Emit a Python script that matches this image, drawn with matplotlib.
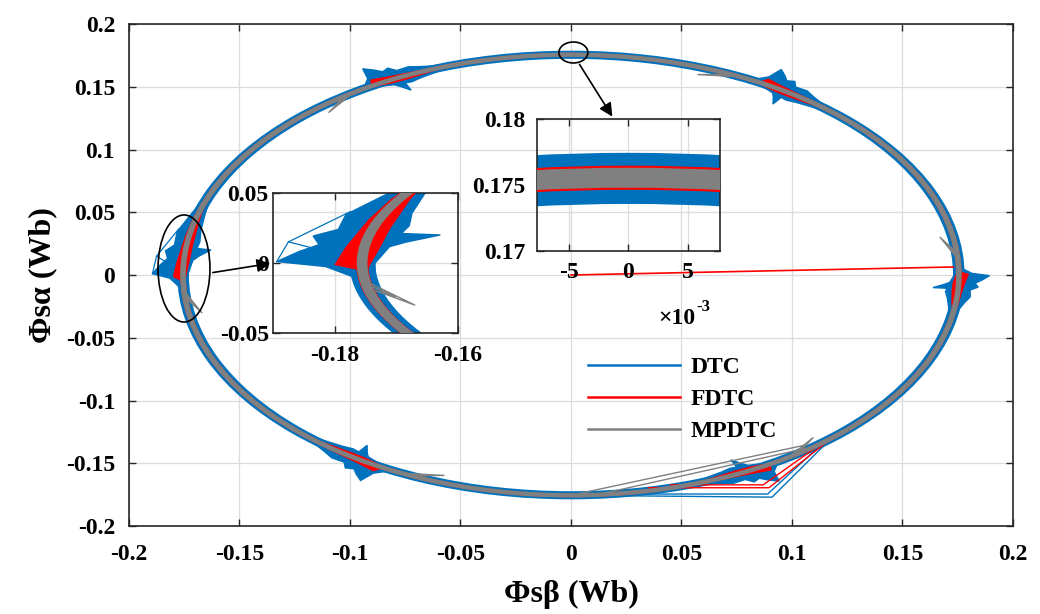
import numpy as np
import matplotlib
matplotlib.use("Agg")
import matplotlib.pyplot as plt
from matplotlib.patches import Annulus, Polygon, Ellipse
from matplotlib.lines import Line2D

plt.rcParams['font.family'] = ['Liberation Serif', 'DejaVu Serif']
plt.rcParams['font.weight'] = 'bold'
plt.rcParams['axes.labelweight'] = 'bold'

# ---------------- data ----------------
series_names = ['DTC', 'FDTC', 'MPDTC']
series_colors = ['#0072BD', '#FF0000', '#808080']
band_inner = [0.1737, 0.1747, 0.1749]     # inner flux radius of each steady band (Wb)
band_outer = [0.1773, 0.1764, 0.1762]     # outer flux radius of each steady band (Wb)

sector_angles = [0, 60, 120, 180, 240, 300]          # sector boundaries (deg)
sector_span = [0.5, 0.55, 0.55, 1.0, 0.6, 0.55]      # angular size of ripple cluster

# DTC ripple cluster at a sector boundary (angle offset deg, radius Wb)
dtc_blob_dtheta = [3.2, 0.8, -0.3, -2.5, -4.1, -6.0, -7.6, -11.0, -14.0, -17.0, -20.0,
                   -20.0, -17.0, -12.0, -9.0, -7.1, -7.0, -5.1, -3.9, 0.1, 3.2]
dtc_blob_r = [0.1773, 0.1815, 0.1894, 0.1860, 0.1830, 0.1845, 0.1810, 0.1815, 0.1795,
              0.1780, 0.1773,
              0.1737, 0.1728, 0.1712, 0.1700, 0.1705, 0.1641, 0.1690, 0.1715, 0.1735, 0.1737]
# FDTC ripple cluster
fdtc_blob_dtheta = [1.5, 0.4, -3.7, -10.0, -15.0, -18.0,
                    -18.0, -15.0, -8.0, -3.9, 0.9, 1.5]
fdtc_blob_r = [0.1764, 0.1800, 0.1785, 0.1772, 0.1768, 0.1764,
               0.1747, 0.1738, 0.1728, 0.1730, 0.1745, 0.1747]
# MPDTC small hook after a sector boundary
mpdtc_hook_dtheta = [4.7, 10.2, 6.5, 8.0, 5.5]
mpdtc_hook_r = [0.1749, 0.1697, 0.1745, 0.1718, 0.1748]

# DTC outline excursions at the 180 deg boundary (abs angle deg, radius)
dtc_left_lineA_theta = [179.7, 175.4, 168.3, 171.0]
dtc_left_lineA_r = [0.1894, 0.1881, 0.1812, 0.1790]
dtc_left_lineB_theta = [175.4, 176.8, 172.5]
dtc_left_lineB_r = [0.1881, 0.1835, 0.1800]

# start-up transients (x = flux beta, y = flux alpha)
dtc_start1_x = [0.0, 0.091, 0.119]
dtc_start1_y = [-0.1755, -0.1770, -0.128]
dtc_start2_x = [0.0, 0.089, 0.117]
dtc_start2_y = [-0.1745, -0.1745, -0.129]
fdtc_start1_x = [0.035, 0.0896, 0.118]
fdtc_start1_y = [-0.1695, -0.1695, -0.130]
fdtc_start2_x = [0.045, 0.087, 0.116]
fdtc_start2_y = [-0.1672, -0.1672, -0.131]
mpdtc_start1_x = [0.0, 0.106]
mpdtc_start1_y = [-0.1755, -0.1355]
mpdtc_start2_x = [0.012, 0.108]
mpdtc_start2_y = [-0.1750, -0.1375]
fdtc_origin_x = [0.0, 0.173]
fdtc_origin_y = [0.0, 0.0064]

main_ticks = [-0.2, -0.15, -0.1, -0.05, 0, 0.05, 0.1, 0.15, 0.2]
main_ticklabels = ['-0.2', '-0.15', '-0.1', '-0.05', '0', '0.05', '0.1', '0.15', '0.2']
in1_xticks = [-0.18, -0.16]
in1_xticklabels = ['-0.18', '-0.16']
in1_yticks = [-0.05, 0, 0.05]
in1_yticklabels = ['-0.05', '0', '0.05']
in2_xticks = [-0.005, 0, 0.005]
in2_xticklabels = ['-5', '0', '5']
in2_yticks = [0.17, 0.175, 0.18]
in2_yticklabels = ['0.17', '0.175', '0.18']


def to_xy(theta_deg, r):
    t = np.deg2rad(np.asarray(theta_deg, float))
    r = np.asarray(r, float)
    return np.column_stack([r * np.cos(t), r * np.sin(t)])


EDGES = [2.6, 1.2, 2.0]


def draw_traj(ax):
    c_dtc, c_fdtc, c_mp = series_colors
    # DTC
    ax.add_patch(Annulus((0, 0), band_outer[0], band_outer[0] - band_inner[0],
                         facecolor=c_dtc, edgecolor=c_dtc, lw=EDGES[0], zorder=2))
    for v, s in zip(sector_angles, sector_span):
        pts = to_xy(v + s * np.asarray(dtc_blob_dtheta), dtc_blob_r)
        ax.add_patch(Polygon(pts, closed=True, facecolor=c_dtc, edgecolor=c_dtc,
                             lw=1.0, zorder=2.1))
    ax.plot(*to_xy(dtc_left_lineA_theta, dtc_left_lineA_r).T, color=c_dtc, lw=0.9, zorder=2.1)
    ax.plot(*to_xy(dtc_left_lineB_theta, dtc_left_lineB_r).T, color=c_dtc, lw=0.9, zorder=2.1)
    ax.plot(dtc_start1_x, dtc_start1_y, color=c_dtc, lw=1.0, zorder=2.2)
    ax.plot(dtc_start2_x, dtc_start2_y, color=c_dtc, lw=1.0, zorder=2.2)
    # FDTC
    ax.add_patch(Annulus((0, 0), band_outer[1], band_outer[1] - band_inner[1],
                         facecolor=c_fdtc, edgecolor=c_fdtc, lw=EDGES[1], zorder=3))
    for v, s in zip(sector_angles, sector_span):
        pts = to_xy(v + s * np.asarray(fdtc_blob_dtheta), fdtc_blob_r)
        ax.add_patch(Polygon(pts, closed=True, facecolor=c_fdtc, edgecolor=c_fdtc,
                             lw=0.5, zorder=3.1))
    ax.plot(fdtc_start1_x, fdtc_start1_y, color=c_fdtc, lw=1.0, zorder=3.2)
    ax.plot(fdtc_start2_x, fdtc_start2_y, color=c_fdtc, lw=1.0, zorder=3.2)
    # MPDTC
    ax.add_patch(Annulus((0, 0), band_outer[2], band_outer[2] - band_inner[2],
                         facecolor=c_mp, edgecolor=c_mp, lw=EDGES[2], zorder=4))
    for v, s in zip(sector_angles, sector_span):
        pts = to_xy(v + np.asarray(mpdtc_hook_dtheta), mpdtc_hook_r)
        ax.plot(pts[:, 0], pts[:, 1], color=c_mp, lw=1.0, zorder=4.1)
    ax.plot(mpdtc_start1_x, mpdtc_start1_y, color=c_mp, lw=1.0, zorder=4.2)
    ax.plot(mpdtc_start2_x, mpdtc_start2_y, color=c_mp, lw=1.0, zorder=4.2)
    ax.plot(fdtc_origin_x, fdtc_origin_y, color=c_fdtc, lw=1.2, zorder=4.5)


def style_axes(ax, fs):
    ax.grid(True, color='#dcdcdc', lw=0.9, zorder=0)
    ax.set_axisbelow(True)
    ax.tick_params(direction='in', top=True, right=True, length=5, width=1.0,
                   labelsize=fs, colors='#262626')
    for sp in ax.spines.values():
        sp.set_color('#262626')
        sp.set_linewidth(1.2)
    for lab in ax.get_xticklabels() + ax.get_yticklabels():
        lab.set_fontweight('bold')
        lab.set_color('black')


fig = plt.figure(figsize=(10.4, 6.14), dpi=100)
ax = fig.add_axes([0.124, 0.1433, 0.85, 0.8176])
draw_traj(ax)
ax.set_xlim(-0.2, 0.2)
ax.set_ylim(-0.2, 0.2)
ax.set_xticks(main_ticks)
ax.set_xticklabels(main_ticklabels)
ax.set_yticks(main_ticks)
ax.set_yticklabels(main_ticklabels)
style_axes(ax, 17)
ax.tick_params(axis='y', pad=10)
ax.tick_params(axis='x', pad=13)
ax.set_xlabel('Φsβ (Wb)', fontsize=23, fontweight='bold', labelpad=11)
ax.set_ylabel('Φsα (Wb)', fontsize=23, fontweight='bold', labelpad=6)

# annotation ellipses
ax.add_patch(Ellipse((-0.1751, 0.0052), 0.0235, 0.0853, fill=False, edgecolor='black',
                     lw=1.2, zorder=6))
ax.add_patch(Ellipse((0.0011, 0.1773), 0.0131, 0.0167, fill=False, edgecolor='black',
                     lw=1.2, zorder=6))

handles = [Line2D([], [], color=c, lw=1.8) for c in series_colors]
leg = ax.legend(handles, series_names, loc='upper left', bbox_to_anchor=(0.519, 0.338),
                frameon=False, fontsize=17, handlelength=3.9, handletextpad=0.45,
                labelspacing=0.45, borderpad=0, borderaxespad=0)
for t in leg.get_texts():
    t.set_fontweight('bold')

# inset 1
ax1 = fig.add_axes([0.2625, 0.4577, 0.1779, 0.228])
ax1.patch.set_alpha(0)
draw_traj(ax1)
ax1.set_xlim(-0.19, -0.16)
ax1.set_ylim(-0.05, 0.05)
ax1.set_xticks(in1_xticks)
ax1.set_xticklabels(in1_xticklabels)
ax1.set_yticks(in1_yticks)
ax1.set_yticklabels(in1_yticklabels)
style_axes(ax1, 17)
ax1.tick_params(axis='y', pad=3)
ax1.tick_params(axis='x', pad=9)

# inset 2
ax2 = fig.add_axes([0.5163, 0.5912, 0.176, 0.215])
ax2.patch.set_alpha(0)
draw_traj(ax2)
ax2.set_xlim(-0.0077, 0.0077)
ax2.set_ylim(0.17, 0.18)
ax2.set_xticks(in2_xticks)
ax2.set_xticklabels(in2_xticklabels)
ax2.set_yticks(in2_yticks)
ax2.set_yticklabels(in2_yticklabels)
style_axes(ax2, 17)
ax2.tick_params(axis='y', pad=8)
ax2.tick_params(axis='x', pad=8)
fig.text(695 / 1040, 1 - 318 / 614, '×10', fontsize=17, fontweight='bold',
         ha='right', va='center')
fig.text(696 / 1040, 1 - 307 / 614, '-3', fontsize=12, fontweight='bold',
         ha='left', va='center')

# arrows
ax1.annotate('', xy=(0.0, 0.5), xycoords=ax1.transAxes,
             xytext=(-0.1633, 0.0016), textcoords=ax.transData,
             arrowprops=dict(arrowstyle='-|>', color='black', lw=1.2, mutation_scale=20),
             annotation_clip=False)
ax2.annotate('', xy=(0.42, 1.0), xycoords=ax2.transAxes,
             xytext=(0.0032, 0.1697), textcoords=ax.transData,
             arrowprops=dict(arrowstyle='-|>', color='black', lw=1.2, mutation_scale=20),
             annotation_clip=False)

fig.savefig('out.png', dpi=100)
